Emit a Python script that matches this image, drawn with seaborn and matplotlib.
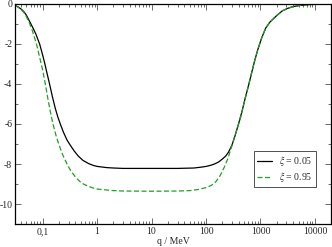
import matplotlib
matplotlib.use("Agg")
import matplotlib.pyplot as plt
import matplotlib.ticker as mticker
import seaborn as sns

# values (q in MeV)
q_low = [0.031, 0.035, 0.04, 0.045, 0.05, 0.065, 0.075, 0.088, 0.1, 0.11, 0.12, 0.134,
         0.15, 0.17, 0.19, 0.211, 0.24, 0.28, 0.32, 0.38, 0.45, 0.55, 0.7, 0.85,
         1, 1.5, 2, 3, 10, 30, 60, 80, 100, 120, 143, 170, 200, 230, 260, 300, 340,
         390, 450, 520, 600, 680, 780, 900, 1050, 1250, 1500, 1950, 2500, 3150,
         4000, 5500, 8000, 12000, 20000]
val_low = [-0.08, -0.14, -0.25, -0.38, -0.55, -1.15, -1.5, -2.0, -2.55, -3.0, -3.45, -4.0,
           -4.6, -5.2, -5.65, -6.0, -6.4, -6.8, -7.05, -7.35, -7.6, -7.82, -7.98, -8.07,
           -8.12, -8.18, -8.2, -8.22, -8.22, -8.22, -8.2, -8.16, -8.12, -8.07, -8.0, -7.9, -7.75, -7.6, -7.4, -7.05, -6.6,
           -6.05, -5.45, -4.75, -4.1, -3.5, -2.85, -2.25, -1.7, -1.2, -0.9, -0.6, -0.35, -0.22,
           -0.13, -0.07, -0.03, -0.01, 0.0]

q_high = [0.031, 0.035, 0.04, 0.045, 0.05, 0.057, 0.065, 0.077, 0.087, 0.1, 0.112, 0.125,
          0.14, 0.155, 0.175, 0.197, 0.23, 0.28, 0.33, 0.4, 0.48, 0.56, 0.7, 0.85,
          1, 1.5, 2, 3, 10, 30, 50, 70, 100, 125, 150, 180, 219, 250, 290, 330, 372,
          420, 450, 520, 600, 680, 780, 900, 1050, 1250, 1500, 1950, 2500, 3150,
          4000, 5500, 8000, 12000, 20000]
val_high = [-0.08, -0.15, -0.27, -0.42, -0.62, -0.95, -1.35, -2.0, -2.6, -3.3, -4.0, -4.75,
            -5.45, -6.0, -6.55, -7.0, -7.5, -8.0, -8.35, -8.65, -8.87, -9.0, -9.12, -9.2,
            -9.25, -9.3, -9.33, -9.35, -9.36, -9.35, -9.33, -9.28, -9.18, -9.07, -8.9, -8.6, -8.13, -7.75, -7.2, -6.7, -6.25,
            -5.78, -5.47, -4.75, -4.1, -3.5, -2.85, -2.25, -1.7, -1.2, -0.9, -0.6, -0.35, -0.22,
            -0.13, -0.07, -0.03, -0.01, 0.0]

labels = [r"$\xi$ = 0.05", r"$\xi$ = 0.95"]
x_ticks = [0.1, 1, 10, 100, 1000, 10000]
x_ticklabels = ["0,1", "1", "10", "100", "1000", "10000"]
y_ticks = [0, -2, -4, -6, -8, -10]

sns.set_style("ticks")
plt.rcParams["font.family"] = ["Liberation Serif", "DejaVu Serif"]
plt.rcParams["mathtext.fontset"] = "stix"

fig = plt.figure(figsize=(3.32, 2.47), dpi=100)
ax = fig.add_axes([0.045, 0.093, 0.953, 0.891])

sns.lineplot(x=q_low, y=val_low, ax=ax, color="black", linewidth=0.9, label=labels[0])
sns.lineplot(x=q_high, y=val_high, ax=ax, color="#1fa01f", linewidth=0.9,
             linestyle=(0, (4, 2)), label=labels[1])

ax.set_xscale("log")
ax.set_xlim(0.031, 20000)
ax.set_ylim(-11, 0)
ax.set_xticks(x_ticks)
ax.set_xticklabels(x_ticklabels)
ax.xaxis.set_minor_locator(mticker.LogLocator(base=10, subs=range(2, 10), numticks=20))
ax.xaxis.set_minor_formatter(mticker.NullFormatter())
ax.set_yticks(y_ticks)
ax.set_yticklabels([str(v) for v in y_ticks])
ax.yaxis.set_minor_locator(mticker.MultipleLocator(1))

ax.tick_params(which="both", direction="in", top=True, right=True, labelsize=7,
               color="#555555", pad=2)
ax.tick_params(which="major", length=4, width=0.6)
ax.tick_params(which="minor", length=2, width=0.6)
for s in ax.spines.values():
    s.set_linewidth(0.9)
    s.set_color("black")

ax.set_xlabel("q / MeV", fontsize=7, labelpad=1)
ax.set_ylabel("")

leg = ax.legend(loc="lower right", bbox_to_anchor=(0.951, 0.168), fontsize=7, frameon=True,
                fancybox=False, handlelength=1.5, handletextpad=0.8, borderpad=0.3,
                labelspacing=0.2, borderaxespad=0)
leg.get_frame().set_edgecolor("black")
leg.get_frame().set_linewidth(0.6)

fig.savefig("out.png", dpi=100)
